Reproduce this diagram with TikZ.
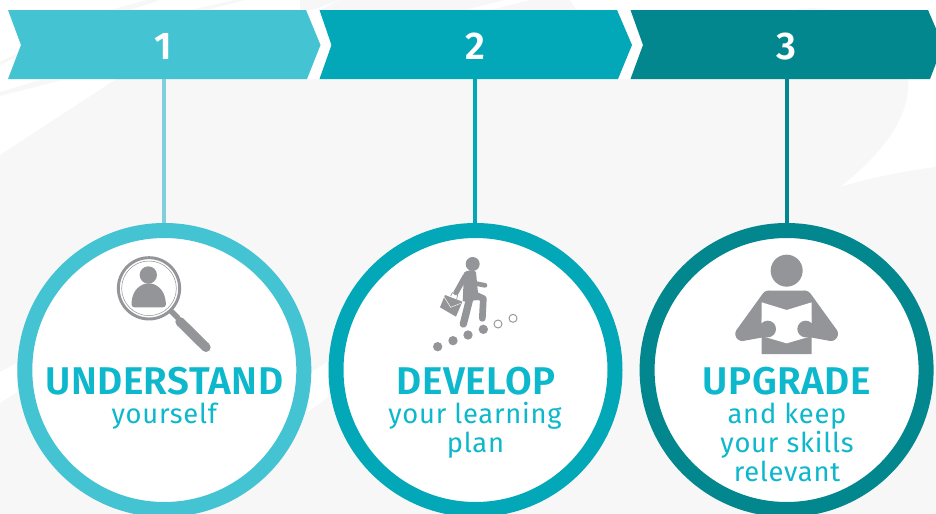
\documentclass[tikz,border=0pt]{standalone}
\usepackage{fontspec}
\setmainfont{Fira Sans}
\newfontfamily\headfont[LetterSpace=1.3]{Fira Sans SemiBold}
\newfontfamily\numfont{Fira Sans SemiBold}
\newfontfamily\subfont[LetterSpace=2.8]{Fira Sans}
\definecolor{bggray}{HTML}{F7F7F7}
\definecolor{tealA}{HTML}{44C3D3}
\definecolor{tealB}{HTML}{02A8B8}
\definecolor{tealC}{HTML}{02878F}
\definecolor{stemA}{HTML}{7FD0DC}
\definecolor{txtcol}{HTML}{0DB7CC}
\definecolor{icongray}{HTML}{949599}
\tikzset{
  ring/.style={circle,draw=#1,fill=white,line width=11.25pt,minimum size=209.25pt,inner sep=0pt},
  stem/.style={line width=3pt,draw=#1},
  numlabel/.style={text=white,font=\fontsize{29}{29}\selectfont\numfont,inner sep=0pt,anchor=base},
  headline/.style={text=txtcol,font=\fontsize{29}{29}\selectfont\headfont,inner sep=0pt,anchor=base},
  subline/.style={text=txtcol,font=\fontsize{20.5}{20.5}\selectfont\subfont,inner sep=0pt,anchor=base},
  iconfill/.style={fill=icongray,draw=none},
  iconline/.style={draw=icongray,line cap=round,line join=round},
  zoomA/.style={shift={(100,250)},x=0.25pt,y=-0.25pt},
  zoomB/.style={shift={(420,250)},x=0.25pt,y=-0.25pt},
  zoomC/.style={shift={(725,250)},x=0.25pt,y=-0.25pt}
}
\begin{document}
\begin{tikzpicture}[x=0.75pt,y=-0.75pt]
\useasboundingbox (0,0) rectangle (936,514);
\clip (0,0) rectangle (936,514);
\fill[white] (0,0) rectangle (936,514);
% background
\fill[bggray] (0,155) -- (115,80) -- (125,10) -- (300,10) -- (300,0) -- (570,0) -- (576,10) -- (790,10)
  .. controls (840,2) and (905,20) .. (908,80)
  .. controls (910,120) and (880,155) .. (840,187)
  .. controls (870,178) and (905,171) .. (936,167) -- (936,514) -- (0,514) -- cycle;
\fill[bggray] (0,62) -- (16,54) -- (16,57) -- (0,65) -- cycle;
\fill[bggray] (0,96) -- (62,80) -- (40,80) -- (0,92) -- cycle;
\fill[bggray] (110,10) -- (147,0) -- (160,0) -- (130,10) -- cycle;
\fill[bggray] (190,10) -- (235,0) -- (245,0) -- (205,10) -- cycle;
\fill[white] (312,10) -- (340,0) -- (320,10) -- cycle;
\fill[white] (465,10) -- (505,0) -- (530,0) -- (490,10) -- cycle;
\fill[white] (0,372) -- (17,363) -- (17,392) -- (0,403) -- cycle;
\fill[white] (311,372) -- (328,362) -- (328,397) -- (308,412) -- cycle;
% white gaps between chevrons
\fill[white] (306,10) -- (320.5,45) -- (307,79) -- (319.5,79) -- (331.5,45) -- (319.5,10) -- cycle;
\fill[white] (617,10) -- (632,45) -- (618,79) -- (630.5,79) -- (643,45) -- (630.5,10) -- cycle;
% chevrons
\fill[tealA] (8,10) -- (306,10) -- (320.5,45) -- (307,79) -- (8,79) -- (21,45) -- cycle;
\fill[tealB] (319.5,10) -- (617,10) -- (632,45) -- (618,79) -- (319.5,79) -- (331.5,45) -- cycle;
\fill[tealC] (630.5,10) -- (928,10) -- (943,45) -- (930,79) -- (630.5,79) -- (643,45) -- cycle;
\node[numlabel] (n1) at (163.5,59.5) {1};
\node[numlabel] (n2) at (475.5,59.5) {2};
\node[numlabel] (n3) at (786.5,59.5) {3};
\coordinate (b1) at (164.3,79);
\coordinate (b2) at (475.4,79);
\coordinate (b3) at (786.7,79);
% rings
\node[ring=tealA] (r1) at (164.3,370) {};
\node[ring=tealB] (r2) at (475.5,370) {};
\node[ring=tealC] (r3) at (786.6,370) {};
\draw[stem=stemA] (b1) -- (b1 |- r1.north);
\draw[stem=tealB] (b2) -- (b2 |- r2.north);
\draw[stem=tealC] (b3) -- (b3 |- r3.north);
% text
\node[headline] (h1) at (164.3,394) {UNDERSTAND};
\node[subline] (s1) at (164.3,423) {yourself};
\node[headline] (h2) at (476,394) {DEVELOP};
\node[subline] (s2a) at (475,423) {your learning};
\node[subline] (s2b) at (475.5,452.7) {plan};
\node[headline] (h3) at (787,394) {UPGRADE};
\node[subline] (s3a) at (787,423) {and keep};
\node[subline] (s3b) at (787,452.7) {your skills};
\node[subline] (s3c) at (787,481.7) {relevant};
% icon 1: magnifier
\begin{scope}[zoomA]
  \draw[icongray,line width=2.2pt] (147,115) circle (92);
  \draw[icongray,line width=0.4pt] (147,115) circle (82);
  \fill[icongray] (145,75) circle (26);
  \fill[icongray] (104,172) .. controls (92,172) and (94,160) .. (96,148)
     .. controls (100,120) and (122,100) .. (146,100)
     .. controls (170,100) and (192,120) .. (196,148)
     .. controls (198,160) and (200,172) .. (188,172) -- cycle;
  \draw[iconline,line width=4pt,line cap=butt] (210,180) -- (235,205);
  \draw[iconline,line width=7pt] (240,215) -- (318,292);
\end{scope}
% icon 2: walker
\begin{scope}[zoomB]
  \fill[icongray] (158,42) circle (21);
  \fill[icongray] (132,68) .. controls (140,60) and (160,58) .. (168,66) -- (176,150) -- (128,155) -- cycle;
  \draw[iconline,line width=4pt] (136,78) -- (108,128);
  \draw[iconline,line width=3.5pt] (165,100) -- (195,106);
  \draw[iconline,line width=5pt] (160,132) -- (190,146) -- (187,205);
  \draw[iconline,line width=5.5pt] (152,135) -- (130,222);
  \fill[white] (72,131) -- (131,154) -- (112,204) -- (56,176) -- cycle;
  \fill[icongray] (75,135) -- (127,155) -- (108,200) -- (60,172) -- cycle;
  \draw[icongray,line width=0.5pt] (92,138) -- (97,128) -- (113,135) -- (110,148);
  \draw[white,line width=0.35pt] (72,140) -- (92,172) -- (122,160);
  \foreach \p in {(53,290),(99,272),(144,255),(190,238)} \fill[icongray] \p circle (14);
  \foreach \p in {(234,222),(279,205)} \draw[icongray,line width=0.7pt] \p circle (12);
\end{scope}
% icon 3: reader
\begin{scope}[zoomC]
  \fill[icongray] (185,62) circle (48);
  \fill[icongray] (128,122) -- (242,122) -- (260,140) -- (260,312) -- (110,312) -- (110,140) -- cycle;
  \draw[iconline,line width=10pt] (52,250) -- (130,142);
  \draw[iconline,line width=10pt] (318,250) -- (240,142);
  \fill[icongray] (110,150) -- (60,250) -- (110,250) -- cycle;
  \fill[icongray] (260,150) -- (310,250) -- (260,250) -- cycle;
  \fill[white] (110,157) -- (185,180) -- (260,157) -- (260,258) -- (185,280) -- (110,258) -- cycle;
  \draw[iconline,line width=10.5pt] (52,252) -- (128,238);
  \draw[iconline,line width=10.5pt] (318,252) -- (242,238);
  \fill[icongray] (128,237) circle (25);
  \fill[icongray] (242,237) circle (25);
\end{scope}
\end{tikzpicture}
\end{document}
